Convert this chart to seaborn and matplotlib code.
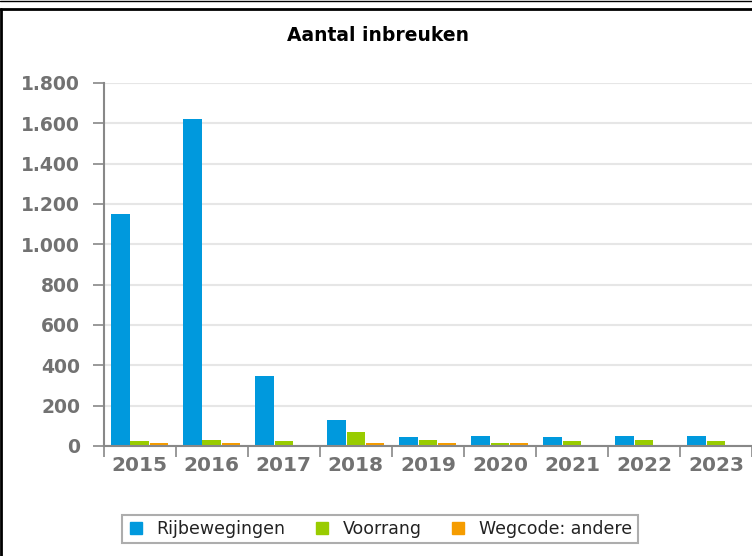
import matplotlib
matplotlib.use("Agg")
import matplotlib.pyplot as plt
import seaborn as sns
import pandas as pd
from matplotlib.lines import Line2D

years = ["2015", "2016", "2017", "2018", "2019", "2020", "2021", "2022", "2023"]
rijbewegingen = [1150, 1620, 345, 130, 45, 50, 45, 50, 50]
voorrang = [25, 30, 25, 70, 30, 15, 25, 30, 25]
wegcode_andere = [15, 15, 5, 15, 15, 15, 0, 5, 5]
series_names = ["Rijbewegingen", "Voorrang", "Wegcode: andere"]
colors = ["#0099dd", "#99cc00", "#f59c00"]
yticks = [0, 200, 400, 600, 800, 1000, 1200, 1400, 1600, 1800]
ytick_labels = ["0", "200", "400", "600", "800", "1.000", "1.200", "1.400", "1.600", "1.800"]

df = pd.DataFrame({
    "year": years * 3,
    "value": rijbewegingen + voorrang + wegcode_andere,
    "serie": [series_names[0]] * 9 + [series_names[1]] * 9 + [series_names[2]] * 9,
})

sns.set_theme(style="white")
plt.rcParams["font.family"] = ["DejaVu Sans"]

fig = plt.figure(figsize=(7.52, 5.56), dpi=100)
ax = fig.add_axes([0.138, 0.198, 0.862, 0.653])

sns.barplot(data=df, x="year", y="value", hue="serie", palette=colors,
            width=0.8, gap=0.03, ax=ax, legend=False, saturation=1, linewidth=0)

ax.set_ylim(0, 1800)
ax.set_xlim(-0.5, 8.5)
ax.set_yticks(yticks)
ax.set_yticklabels(ytick_labels)
ax.yaxis.grid(True, color="#e6e6e6", linewidth=1.5)
ax.set_axisbelow(True)
ax.set_xlabel("")
ax.set_ylabel("")

for s in ["top", "right"]:
    ax.spines[s].set_visible(False)
for s in ["left", "bottom"]:
    ax.spines[s].set_color("#888888")
    ax.spines[s].set_linewidth(1.5)

ax.tick_params(axis="y", length=8, width=1.2, color="#888888", labelcolor="#727272",
               labelsize=13.5, pad=9, left=True)
ax.tick_params(axis="x", length=0, labelcolor="#727272", labelsize=14.5, pad=7)
for lab in ax.get_yticklabels() + ax.get_xticklabels():
    lab.set_fontweight("bold")

# category boundary ticks on x axis
ax.set_xticks([i + 0.5 for i in range(-1, 9)], minor=True)
ax.tick_params(axis="x", which="minor", length=8, width=1.2, color="#888888", bottom=True)

fig.text(0.503, 0.937, "Aantal inbreuken", ha="center", va="center",
         fontsize=13.5, fontweight="bold", color="#000000")

handles = [Line2D([0], [0], marker="s", linestyle="none", markersize=9,
                  markerfacecolor=c, markeredgecolor=c) for c in colors]
leg = fig.legend(handles, series_names, loc="center", bbox_to_anchor=(0.505, 0.049),
                 ncol=3, frameon=True, fontsize=12.5, handlelength=1.0,
                 handletextpad=0.7, columnspacing=1.6, borderpad=0.3, borderaxespad=0,
                 fancybox=False, edgecolor="#999999")
leg.get_frame().set_linewidth(1.5)
for t in leg.get_texts():
    t.set_color("#222222")

# figure border lines
fig.add_artist(Line2D([0, 1], [1 - 8.5 / 556, 1 - 8.5 / 556], color="black", linewidth=2,
                      transform=fig.transFigure))
fig.add_artist(Line2D([0, 1], [1 - 0.5 / 556, 1 - 0.5 / 556], color="black", linewidth=1,
                      transform=fig.transFigure))
fig.add_artist(Line2D([1 / 752, 1 / 752], [0, 1 - 8.5 / 556], color="black", linewidth=2,
                      transform=fig.transFigure))

fig.savefig("out.png", dpi=100)
